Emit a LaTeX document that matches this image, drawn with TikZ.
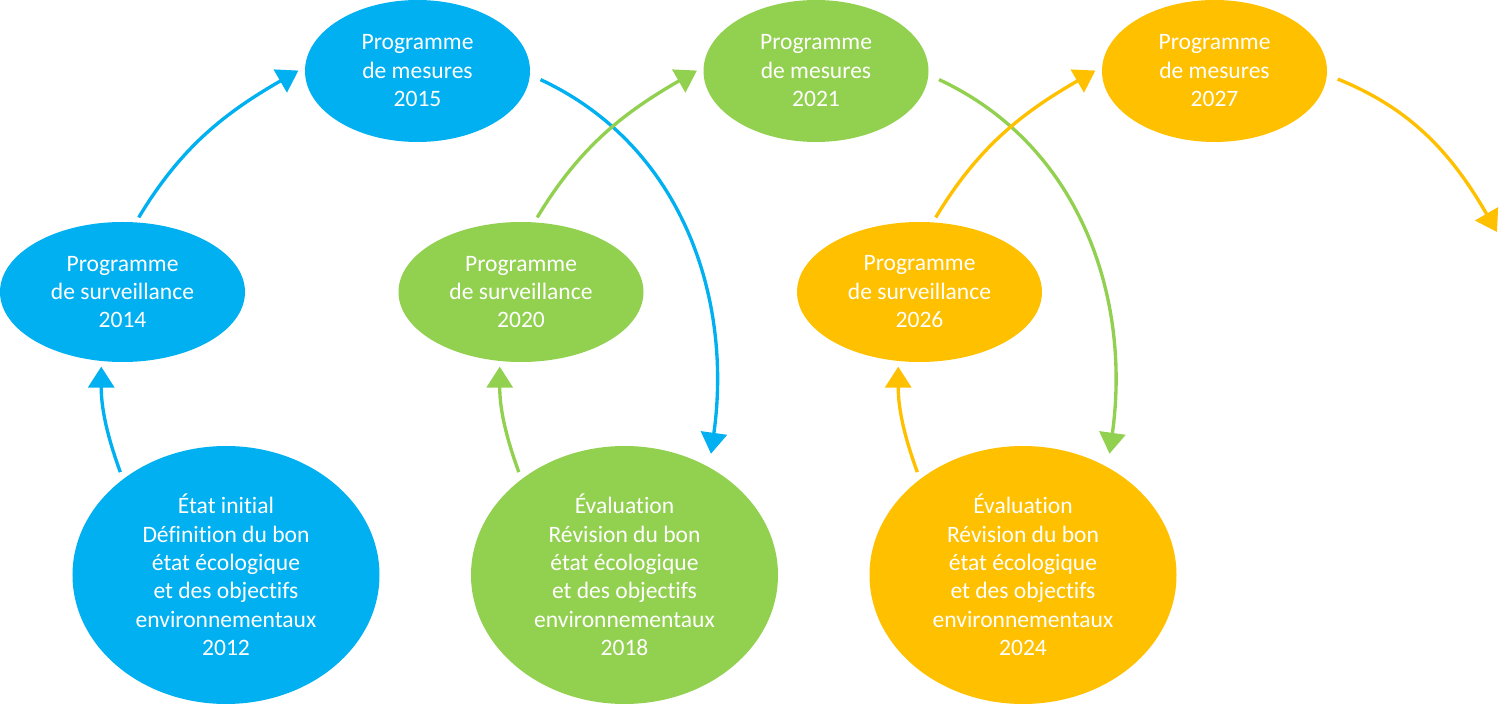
\documentclass[tikz,border=0pt]{standalone}
\usepackage{fontspec}
\setmainfont{Carlito}[Ligatures={NoCommon,NoContextual}]
\usetikzlibrary{shapes.geometric,arrows.meta}
\definecolor{bleu}{HTML}{00B0F0}
\definecolor{vert}{HTML}{92D050}
\definecolor{jaune}{HTML}{FFC000}
\tikzset{
	etape/.style={ellipse, inner sep=0pt, text=white, align=center, font=\fontsize{6.7}{8.1}\selectfont},
	petit/.style={etape, minimum width=2.45cm, minimum height=1.40cm},
	haut/.style={etape, minimum width=2.25cm, minimum height=1.42cm},
	grand/.style={etape, minimum width=3.07cm, minimum height=2.58cm},
	fleche/.style={line width=0.95pt, -{Triangle[length=0.21cm, width=0.26cm]}}
}
\begin{document}
\begin{tikzpicture}
			\useasboundingbox (0,0) rectangle (15,7.04);
			% premier cycle
			\node[grand, fill=bleu] (etat12) at (2.26,1.29) {État initial\\Définition du bon\\état écologique\\et des objectifs\\environnementaux\\2012};
			\node[petit, fill=bleu] (surv14) at (1.225,4.12) {Programme\\de surveillance\\2014};
			\node[haut, fill=bleu] (mes15) at (4.175,6.33) {Programme\\de mesures\\2015};
			% deuxieme cycle
			\node[grand, fill=vert] (eval18) at (6.245,1.29) {Évaluation\\Révision du bon\\état écologique\\et des objectifs\\environnementaux\\2018};
			\node[petit, fill=vert] (surv20) at (5.21,4.12) {Programme\\de surveillance\\2020};
			\node[haut, fill=vert] (mes21) at (8.16,6.33) {Programme\\de mesures\\2021};
			% troisieme cycle
			\node[grand, fill=jaune] (eval24) at (10.23,1.29) {Évaluation\\Révision du bon\\état écologique\\et des objectifs\\environnementaux\\2024};
			\node[petit, fill=jaune] (surv26) at (9.195,4.12) {Programme\\de surveillance\\2026};
			\node[haut, fill=jaune] (mes27) at (12.145,6.33) {Programme\\de mesures\\2027};
			\coordinate (suite) at (14.97,4.72);
			
			\draw[fleche, bleu, shorten <=0.07cm, shorten >=0.05cm] (etat12.137) to[out=110, in=-90] (surv14.-107);
			\draw[fleche, bleu, shorten <=0.05cm, shorten >=0.07cm] (surv14.79) to[out=59, in=-150] (mes15.178);
			\draw[fleche, bleu, shorten <=0.11cm, shorten >=0.13cm] (mes15.-2) to[out=-25, in=82] (eval18.52);
			
			\draw[fleche, vert, shorten <=0.07cm, shorten >=0.05cm] (eval18.137) to[out=110, in=-90] (surv20.-107);
			\draw[fleche, vert, shorten <=0.05cm, shorten >=0.07cm] (surv20.79) to[out=59, in=-150] (mes21.178);
			\draw[fleche, vert, shorten <=0.11cm, shorten >=0.13cm] (mes21.-2) to[out=-25, in=82] (eval24.52);
			
			\draw[fleche, jaune, shorten <=0.07cm, shorten >=0.05cm] (eval24.137) to[out=110, in=-90] (surv26.-107);
			\draw[fleche, jaune, shorten <=0.05cm, shorten >=0.07cm] (surv26.79) to[out=59, in=-150] (mes27.178);
			\draw[fleche, jaune, shorten <=0.11cm] (mes27.-2) to[out=-22, in=120] (suite);
		\end{tikzpicture}
\end{document}
